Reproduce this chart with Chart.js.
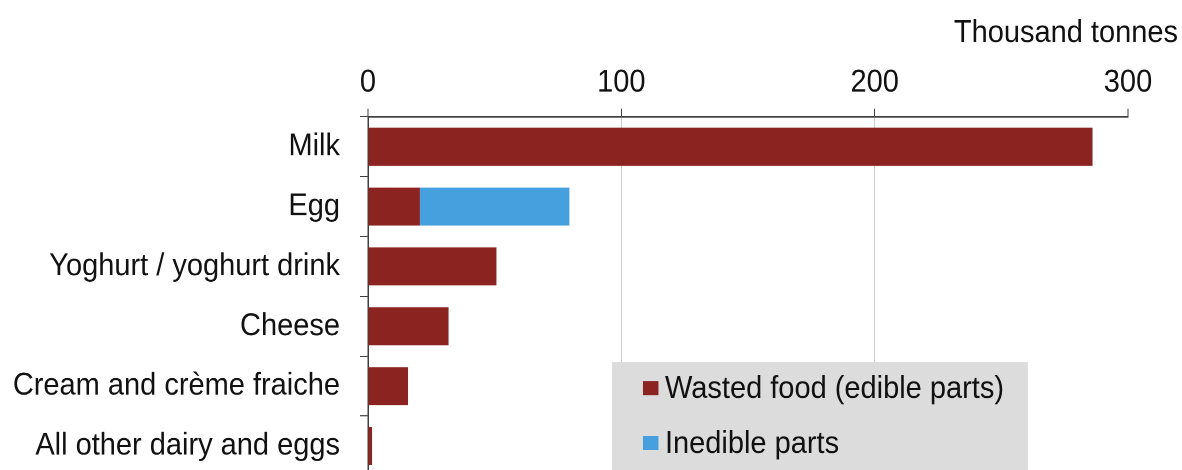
<!DOCTYPE html>
<html>
<head>
<meta charset="utf-8">
<title>Dairy and egg waste</title>
<script src="https://cdn.jsdelivr.net/npm/chart.js@4/dist/chart.umd.min.js"></script>
<style>
  html, body { margin: 0; padding: 0; background: #ffffff; overflow: hidden; width: 1182px; height: 470px; }
  /* the drawing uses a slightly tall typeface look, so the canvas is stretched vertically */
  #wrap { position: relative; width: 1182px; height: 474px; transform: scaleY(1.09); transform-origin: 0 0; }
</style>
</head>
<body>
<div id="wrap"><canvas id="chart"></canvas></div>
<script>
// Food waste by product group, thousand tonnes
const categories = [
  'Milk',
  'Egg',
  'Yoghurt / yoghurt drink',
  'Cheese',
  'Cream and crème fraiche',
  'All other dairy and eggs'
];
const seriesNames = ['Wasted food (edible parts)', 'Inedible parts'];
const wastedEdible = [286, 20.5, 50.7, 31.8, 15.8, 1.6];
const inedibleParts = [0, 59, 0, 0, 0, 0];
const xTickValues = [0, 100, 200, 300];
const unitLabel = 'Thousand tonnes';

const FONT = '"Liberation Sans", Arial, sans-serif';
const TEXT = '#111111';
const AXIS = '#3f3f3f';
const RED = '#8b2420';
const BLUE = '#47a0de';

// Unit caption above the value axis
const unitCaption = {
  id: 'unitCaption',
  afterDraw(chart) {
    const c = chart.ctx;
    c.save();
    c.font = '29px ' + FONT;
    c.fillStyle = TEXT;
    c.textAlign = 'right';
    c.textBaseline = 'alphabetic';
    c.fillText(unitLabel, 1178, 38.3);
    c.restore();
  }
};

// Grey legend panel sitting inside the plot area
const panelLegend = {
  id: 'panelLegend',
  afterDraw(chart) {
    const c = chart.ctx;
    const x = chart.scales.x;
    const left = x.getPixelForValue(96.3);
    const right = x.getPixelForValue(260.5);
    const top = 332.1;
    c.save();
    c.fillStyle = '#dcdcdc';
    c.fillRect(left, top, right - left, chart.height - top);
    c.font = '29px ' + FONT;
    c.textAlign = 'left';
    c.textBaseline = 'middle';
    chart.data.datasets.forEach((ds, i) => {
      const cy = top + 24 + i * 50.4;
      c.fillStyle = ds.backgroundColor;
      c.fillRect(left + 31, cy - 6.5, 15.5, 13);
      c.fillStyle = TEXT;
      c.fillText(ds.label, left + 53, cy + 1);
    });
    c.restore();
  }
};

new Chart(document.getElementById('chart'), {
  type: 'bar',
  data: {
    labels: categories,
    datasets: [
      { label: seriesNames[0], data: wastedEdible, backgroundColor: RED },
      { label: seriesNames[1], data: inedibleParts, backgroundColor: BLUE }
    ]
  },
  options: {
    indexAxis: 'y',
    responsive: true,
    maintainAspectRatio: false,
    animation: false,
    devicePixelRatio: 2,
    layout: { padding: { top: 0, left: 0, right: 54, bottom: 0 } },
    datasets: { bar: { barPercentage: 0.633, categoryPercentage: 1 } },
    plugins: {
      legend: { display: false },
      tooltip: { enabled: false }
    },
    scales: {
      x: {
        position: 'top',
        stacked: true,
        min: 0,
        max: 300,
        afterBuildTicks(scale) {
          scale.ticks = xTickValues.map(v => ({ value: v }));
        },
        afterFit(scale) { scale.height = 107.1; },
        ticks: {
          font: { family: FONT, size: 29 },
          color: TEXT,
          padding: 6.5,
          maxRotation: 0
        },
        grid: {
          color: ctx => (ctx.tick && (ctx.tick.value === 0 || ctx.tick.value === 300)) ? 'rgba(0,0,0,0)' : '#c9ccd3',
          tickColor: AXIS,
          tickLength: 7.3,
          lineWidth: 1
        },
        border: { color: AXIS, width: 1.4 }
      },
      y: {
        stacked: true,
        afterFit(scale) { scale.width = 368; },
        ticks: {
          font: { family: FONT, size: 29 },
          color: TEXT,
          padding: 20
        },
        grid: {
          drawOnChartArea: false,
          tickColor: AXIS,
          tickLength: 8,
          offset: true
        },
        border: { color: AXIS, width: 1.5 }
      }
    }
  },
  plugins: [unitCaption, panelLegend]
});
</script>
</body>
</html>
